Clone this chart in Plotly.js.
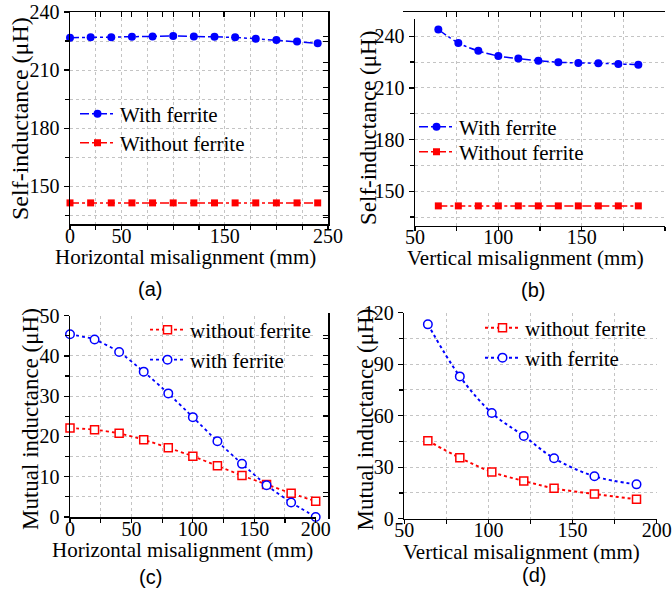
<!DOCTYPE html>
<html><head><meta charset="utf-8">
<script src="https://cdn.plot.ly/plotly-3.0.1.min.js"></script>
<style>html,body{margin:0;padding:0;background:#fff}#chart{width:672px;height:591px}</style>
</head><body><div id="chart"></div>
<script>
// (a) self-inductance vs horizontal misalignment
const aX = [0, 20, 40, 60, 80, 100, 120, 140, 160, 180, 200, 220, 240];
const aWith = [226.7, 226.9, 227.0, 227.2, 227.4, 227.6, 227.4, 227.2, 226.9, 226.2, 225.5, 224.8, 223.8];
const aWithout = [141.4, 141.4, 141.4, 141.4, 141.4, 141.4, 141.4, 141.4, 141.4, 141.4, 141.4, 141.4, 141.4];
// (b) self-inductance vs vertical misalignment
const bX = [64, 76, 88, 100, 112, 124, 136, 148, 160, 172, 184];
const bWith = [243.9, 236.1, 231.5, 228.5, 227.0, 225.8, 224.9, 224.5, 224.3, 223.9, 223.5];
const bWithout = [141.5, 141.5, 141.5, 141.5, 141.5, 141.5, 141.5, 141.5, 141.5, 141.5, 141.5];
// (c) mutual inductance vs horizontal misalignment
const cX = [0, 20, 40, 60, 80, 100, 120, 140, 160, 180, 200];
const cWithout = [22.1, 21.7, 20.8, 19.2, 17.2, 15.1, 12.7, 10.3, 8.1, 5.9, 3.9];
const cWith = [45.4, 44.1, 41.0, 36.1, 30.7, 24.8, 18.8, 13.2, 7.9, 3.6, 0.0];
// (d) mutual inductance vs vertical misalignment
const dX = [64, 83, 102, 121, 139, 163, 188];
const dWithout = [45.4, 35.5, 27.2, 22.0, 17.7, 14.4, 11.3];
const dWith = [113.2, 82.9, 61.6, 48.2, 35.2, 24.7, 20.0];

const labelsUpper = ['With ferrite', 'Without ferrite'];
const labelsLower = ['without ferrite', 'with ferrite'];
const panelLabels = ['(a)', '(b)', '(c)', '(d)'];
const xTitleH = 'Horizontal misalignment (mm)';
const xTitleV = 'Vertical misalignment (mm)';
const yTitleSelf = 'Self-inductance (μH)';
const yTitleMutual = 'Mutual inductance (μH)';

const BLUE = '#0000ff', RED = '#ff0000';
const SERIF = '"Liberation Serif", "Times New Roman", serif';
const SANS = '"Liberation Sans", Arial, sans-serif';

function W(px) { return px / 672; }
function H(py) { return 1 - py / 591; }

const traces = [
  {x: aX, y: aWith, name: labelsUpper[0], xaxis: 'x', yaxis: 'y', legend: 'legend', mode: 'lines+markers', cliponaxis: false,
   line: {color: BLUE, dash: 'dashdot', width: 1.5}, marker: {color: BLUE, symbol: 'circle', size: 8}},
  {x: aX, y: aWithout, name: labelsUpper[1], xaxis: 'x', yaxis: 'y', legend: 'legend2', mode: 'lines+markers', cliponaxis: false,
   line: {color: RED, dash: 'dashdot', width: 1.5}, marker: {color: RED, symbol: 'square', size: 7}},
  {x: bX, y: bWith, name: labelsUpper[0], xaxis: 'x2', yaxis: 'y2', legend: 'legend3', mode: 'lines+markers', cliponaxis: false,
   line: {color: BLUE, dash: 'dashdot', width: 1.5, shape: 'spline'}, marker: {color: BLUE, symbol: 'circle', size: 8}},
  {x: bX, y: bWithout, name: labelsUpper[1], xaxis: 'x2', yaxis: 'y2', legend: 'legend4', mode: 'lines+markers', cliponaxis: false,
   line: {color: RED, dash: 'dashdot', width: 1.5}, marker: {color: RED, symbol: 'square', size: 7}},
  {x: cX, y: cWithout, name: labelsLower[0], xaxis: 'x3', yaxis: 'y3', legend: 'legend5', mode: 'lines+markers', cliponaxis: false,
   line: {color: RED, dash: 'dot', width: 1.8, shape: 'spline', smoothing: 0.5}, marker: {color: '#fff', symbol: 'square', size: 8, line: {color: RED, width: 1.5}}},
  {x: cX, y: cWith, name: labelsLower[1], xaxis: 'x3', yaxis: 'y3', legend: 'legend6', mode: 'lines+markers', cliponaxis: false,
   line: {color: BLUE, dash: 'dot', width: 1.8, shape: 'spline', smoothing: 0.5}, marker: {color: '#fff', symbol: 'circle', size: 8.5, line: {color: BLUE, width: 1.5}}},
  {x: dX, y: dWithout, name: labelsLower[0], xaxis: 'x4', yaxis: 'y4', legend: 'legend7', mode: 'lines+markers', cliponaxis: false,
   line: {color: RED, dash: 'dot', width: 2, shape: 'spline'}, marker: {color: '#fff', symbol: 'square', size: 8, line: {color: RED, width: 1.5}}},
  {x: dX, y: dWith, name: labelsLower[1], xaxis: 'x4', yaxis: 'y4', legend: 'legend8', mode: 'lines+markers', cliponaxis: false,
   line: {color: BLUE, dash: 'dot', width: 2, shape: 'spline'}, marker: {color: '#fff', symbol: 'circle', size: 8.5, line: {color: BLUE, width: 1.5}}}
];

// overlay axes for inward mirror ticks (top/right)
for (let i = 1; i <= 4; i++) {
  traces.push({x: [], y: [], xaxis: 'x' + (i + 4), yaxis: 'y' + (i + 4), showlegend: false, hoverinfo: 'skip', type: 'scatter'});
}

const tickFont = {family: SERIF, size: 20, color: '#000'};
const gridColor = '#c4c4c4';

function xAx(domain, range, tickvals, minorDt, anchor) {
  return {domain: domain, range: range, anchor: anchor, tickmode: 'array', tickvals: tickvals, ticktext: tickvals.map(String),
    showline: true, linecolor: '#000', linewidth: 1.5, ticks: 'outside', ticklen: 4, tickwidth: 1.2, tickcolor: '#000',
    showgrid: true, gridcolor: gridColor, griddash: 'dot', gridwidth: 1, zeroline: false,
    minor: {dtick: minorDt, tick0: 0, ticks: 'outside', ticklen: 4, tickcolor: '#000', showgrid: true, gridcolor: gridColor, griddash: 'dot', gridwidth: 1},
    tickfont: tickFont, ticklabelstandoff: -11};
}
function yAx(domain, range, dt, minorDt, anchor) {
  return {domain: domain, range: range, anchor: anchor, tickmode: 'linear', tick0: 0, dtick: dt,
    showline: true, linecolor: '#000', linewidth: 1.5, ticks: 'outside', ticklen: 5, tickwidth: 1.2, tickcolor: '#000',
    showgrid: true, gridcolor: gridColor, griddash: 'dot', gridwidth: 1, zeroline: false,
    minor: {dtick: minorDt, tick0: 0, ticks: 'outside', ticklen: 4, tickcolor: '#000', showgrid: true, gridcolor: gridColor, griddash: 'dot', gridwidth: 1},
    tickfont: tickFont, ticklabelstandoff: 0};
}
function xTop(over, domain, range, dt) {
  return {overlaying: over, side: 'top', domain: domain, range: range, tickmode: 'linear', tick0: 0, dtick: dt,
    showline: true, linecolor: '#000', linewidth: 1.5, ticks: 'inside', ticklen: 5, tickcolor: '#000',
    showticklabels: false, showgrid: false, zeroline: false};
}
function yRight(over, domain, range, dt) {
  return {overlaying: over, side: 'right', domain: domain, range: range, tickmode: 'linear', tick0: 0, dtick: dt,
    showline: true, linecolor: '#000', linewidth: 1.5, ticks: 'inside', ticklen: 5, tickcolor: '#000',
    showticklabels: false, showgrid: false, zeroline: false};
}

const dA = {x: [W(70), W(328)], y: [H(224), H(12)]};
const dB = {x: [W(415), W(665)], y: [H(225.7), H(19)]};
const dC = {x: [W(70), W(315.7)], y: [H(517), H(315.7)]};
const dD = {x: [W(404.3), W(656.7)], y: [H(518.7), H(312.7)]};

const rA = {x: [0, 250], y: [130.5, 240]};
const rB = {x: [50, 200], y: [130, 250]};
const rC = {x: [0, 200], y: [0, 50]};
const rD = {x: [50, 200], y: [0, 120]};

const legFont = {family: SERIF, size: 21, color: '#000'};
// each entry in its own legend box; (px, py) = marker centre
function leg(px, py) {
  return {x: W(px - 20), y: H(py), xanchor: 'left', yanchor: 'middle', bgcolor: 'rgba(0,0,0,0)', borderwidth: 0,
    font: legFont, itemwidth: 35, tracegroupgap: 0};
}

function ann(text, px, py, size, family, angle) {
  return {text: text, x: W(px), y: H(py), xref: 'paper', yref: 'paper', xanchor: 'center', yanchor: 'middle',
    showarrow: false, textangle: angle || 0, font: {family: family, size: size, color: '#000'}};
}

const layout = {
  width: 672, height: 591, paper_bgcolor: '#fff', plot_bgcolor: '#fff',
  margin: {l: 0, r: 0, t: 0, b: 0}, showlegend: true,
  font: {family: SERIF, color: '#000'},
  xaxis: xAx(dA.x, rA.x, [0, 50, 150, 250], 25, 'y'),
  yaxis: yAx(dA.y, rA.y, 30, 15, 'x'),
  xaxis2: xAx(dB.x, rB.x, [50, 100, 150, 200], 25, 'y2'),
  yaxis2: yAx(dB.y, rB.y, 30, 15, 'x2'),
  xaxis3: xAx(dC.x, rC.x, [0, 50, 100, 150, 200], 25, 'y3'),
  yaxis3: yAx(dC.y, rC.y, 10, 5, 'x3'),
  xaxis4: xAx(dD.x, rD.x, [50, 100, 150, 200], 25, 'y4'),
  yaxis4: yAx(dD.y, rD.y, 30, 15, 'x4'),
  xaxis5: xTop('x', dA.x, rA.x, 25), yaxis5: yRight('y', dA.y, rA.y, 15),
  xaxis6: xTop('x2', dB.x, rB.x, 25), yaxis6: yRight('y2', dB.y, rB.y, 15),
  xaxis7: xTop('x3', dC.x, rC.x, 25), yaxis7: yRight('y3', dC.y, rC.y, 5),
  xaxis8: xTop('x4', dD.x, rD.x, 25), yaxis8: yRight('y4', dD.y, rD.y, 15),
  legend: leg(95, 114),
  legend2: leg(95, 143),
  legend3: leg(434, 127),
  legend4: leg(434, 152),
  legend5: leg(165, 330),
  legend6: leg(165, 360),
  legend7: leg(500, 328),
  legend8: leg(500, 358),
  annotations: [
    ann(xTitleH, 185.5, 257, 21, SERIF),
    ann(xTitleV, 525, 258, 21, SERIF),
    ann(xTitleH, 182, 550, 21, SERIF),
    ann(xTitleV, 521, 552, 21, SERIF),
    ann(yTitleSelf, 20, 119, 24, SERIF, -90),
    ann(yTitleSelf, 368, 128, 23, SERIF, -90),
    ann(yTitleMutual, 30, 419, 23, SERIF, -90),
    ann(yTitleMutual, 364.5, 420, 23, SERIF, -90),
    ann(panelLabels[0], 150, 289, 20, SANS),
    ann(panelLabels[1], 533, 290, 20, SANS),
    ann(panelLabels[2], 150, 577, 20, SANS),
    ann(panelLabels[3], 534, 575, 20, SANS)
  ]
};

Plotly.newPlot('chart', traces, layout, {displayModeBar: false, responsive: false, staticPlot: true});
</script></body></html>
